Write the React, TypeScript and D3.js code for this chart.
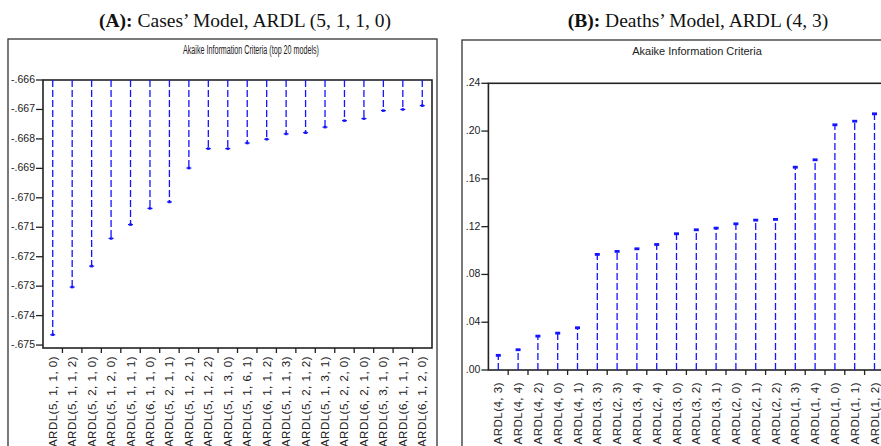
import React from "react";
import * as d3 from "d3";

// (A) cases model: top 20 ARDL specs and their AIC
const casesModels = [
  "ARDL(5, 1, 1, 0)", "ARDL(5, 1, 1, 2)", "ARDL(5, 2, 1, 0)", "ARDL(5, 1, 2, 0)",
  "ARDL(5, 1, 1, 1)", "ARDL(6, 1, 1, 0)", "ARDL(5, 2, 1, 1)", "ARDL(5, 1, 2, 1)",
  "ARDL(5, 1, 2, 2)", "ARDL(5, 1, 3, 0)", "ARDL(5, 1, 6, 1)", "ARDL(6, 1, 1, 2)",
  "ARDL(5, 1, 1, 3)", "ARDL(5, 2, 1, 2)", "ARDL(5, 1, 3, 1)", "ARDL(5, 2, 2, 0)",
  "ARDL(6, 2, 1, 0)", "ARDL(5, 3, 1, 0)", "ARDL(6, 1, 1, 1)", "ARDL(6, 1, 2, 0)",
];
const casesAic = [
  -0.67465, -0.67303, -0.67232, -0.67138, -0.67091, -0.67036, -0.67014, -0.66899,
  -0.66833, -0.66833, -0.66814, -0.66801, -0.66783, -0.66779, -0.6676, -0.66738,
  -0.66731, -0.66704, -0.667, -0.66687,
];
const casesTicks = [-0.666, -0.667, -0.668, -0.669, -0.67, -0.671, -0.672, -0.673, -0.674, -0.675];
const casesTickLabels = ["-.666", "-.667", "-.668", "-.669", "-.670", "-.671", "-.672", "-.673", "-.674", "-.675"];

// (B) deaths model
const deathsModels = [
  "ARDL(4, 3)", "ARDL(4, 4)", "ARDL(4, 2)", "ARDL(4, 0)", "ARDL(4, 1)",
  "ARDL(3, 3)", "ARDL(2, 3)", "ARDL(3, 4)", "ARDL(2, 4)", "ARDL(3, 0)",
  "ARDL(3, 2)", "ARDL(3, 1)", "ARDL(2, 0)", "ARDL(2, 1)", "ARDL(2, 2)",
  "ARDL(1, 3)", "ARDL(1, 4)", "ARDL(1, 0)", "ARDL(1, 1)", "ARDL(1, 2)",
];
const deathsAic = [
  0.0126, 0.0173, 0.0287, 0.0312, 0.0357, 0.0971, 0.0996, 0.1018, 0.1054, 0.1144,
  0.1177, 0.1191, 0.1227, 0.1258, 0.1264, 0.1701, 0.1763, 0.2056, 0.2086, 0.2148,
];
const deathsTicks = [0, 0.04, 0.08, 0.12, 0.16, 0.2, 0.24];
const deathsTickLabels = [".00", ".04", ".08", ".12", ".16", ".20", ".24"];

const sans = "'Liberation Sans', Arial, sans-serif";
const serif = "'Liberation Serif', 'Times New Roman', serif";
const axisColor = "#222";
const blue = "#1414ff";

type PanelProps = {
  models: string[];
  values: number[];
  ticks: number[];
  tickLabels: string[];
  x0: number;
  x1: number;
  yTop: number;
  yBottom: number;
  domain: [number, number];
  base: number;
  frame: { x: number; y: number; w: number };
  title: string;
  titleX: number;
  titleY: number;
  titleSize: number;
  titleLength?: number;
  labelTop: number;
  marker: "plus" | "tee";
};

function Panel(p: PanelProps) {
  const x = d3.scaleBand<string>().domain(p.models).range([p.x0, p.x1]);
  const y = d3.scaleLinear().domain(p.domain).range([p.yBottom, p.yTop]);
  const bw = x.bandwidth();
  return (
    <g>
      <rect x={p.frame.x} y={p.frame.y} width={p.frame.w} height={460} fill="none" stroke="#333" strokeWidth={1.3} />
      <text
        x={p.titleX}
        y={p.titleY}
        textAnchor="middle"
        fontFamily={sans}
        fontSize={p.titleSize}
        fill="#222"
        textLength={p.titleLength}
        lengthAdjust={p.titleLength ? "spacingAndGlyphs" : undefined}
      >
        {p.title}
      </text>
      <rect x={p.x0} y={p.yTop} width={p.x1 - p.x0} height={p.yBottom - p.yTop} fill="none" stroke={axisColor} strokeWidth={1.6} />
      {p.ticks.map((t, i) => (
        <g key={"yt" + i}>
          <line x1={p.x0 - 7} x2={p.x0} y1={y(t)} y2={y(t)} stroke={axisColor} strokeWidth={1.3} />
          <text x={p.x0 - 8} y={y(t) + 3} textAnchor="end" fontFamily={sans} fontSize={10.5} fill="#222">
            {p.tickLabels[i]}
          </text>
        </g>
      ))}
      {p.models.slice(1).map((m) => (
        <line key={"xt" + m} x1={x(m)!} x2={x(m)!} y1={p.yBottom} y2={p.yBottom + 5} stroke={axisColor} strokeWidth={1.3} />
      ))}
      {p.models.map((m, i) => {
        const cx = x(m)! + bw / 2;
        const vy = y(p.values[i]);
        return (
          <g key={"s" + i}>
            <line x1={cx} x2={cx} y1={y(p.base)} y2={vy} stroke={blue} strokeWidth={1.3} strokeDasharray="7,3" />
            {p.marker === "plus" ? (
              <g fill={blue} stroke={blue}>
                <line x1={cx - 2.5} x2={cx + 2.5} y1={vy} y2={vy} strokeWidth={1.2} />
                <rect x={cx - 1.3} y={vy - 1.3} width={2.6} height={2.6} strokeWidth={0} />
              </g>
            ) : (
              <rect x={cx - 2.5} y={vy - 1} width={5} height={2.8} fill={blue} />
            )}
            <text
              transform={`translate(${cx},${p.labelTop}) rotate(-90)`}
              textAnchor="end"
              dominantBaseline="central"
              fontFamily={sans}
              fontSize={11.5}
              letterSpacing={0.5}
              fill="#222"
            >
              {m}
            </text>
          </g>
        );
      })}
    </g>
  );
}

export default function App() {
  return (
    <svg width={881} height={446} style={{ position: "fixed", left: 0, top: 0, background: "#fff" }}>
      <rect width={881} height={446} fill="#fff" />
      <text x={245} y={27} textAnchor="middle" fontFamily={serif} fontSize={19.5} fill="#111">
        <tspan fontWeight="bold">(A):</tspan> Cases’ Model, ARDL (5, 1, 1, 0)
      </text>
      <text x={698} y={27} textAnchor="middle" fontFamily={serif} fontSize={19.5} fill="#111">
        <tspan fontWeight="bold">(B):</tspan> Deaths’ Model, ARDL (4, 3)
      </text>
      <Panel
        models={casesModels}
        values={casesAic}
        ticks={casesTicks}
        tickLabels={casesTickLabels}
        x0={43}
        x1={432}
        yTop={80}
        yBottom={348}
        domain={[-0.6751, -0.666]}
        base={-0.666}
        frame={{ x: 8, y: 39, w: 429 }}
        title="Akaike Information Criteria (top 20 models)"
        titleX={251}
        titleY={54}
        titleSize={12.5}
        titleLength={136}
        labelTop={356}
        marker="plus"
      />
      <Panel
        models={deathsModels}
        values={deathsAic}
        ticks={deathsTicks}
        tickLabels={deathsTickLabels}
        x0={488.4}
        x1={884.4}
        yTop={83.3}
        yBottom={370}
        domain={[0, 0.24]}
        base={0}
        frame={{ x: 462, y: 40, w: 432 }}
        title="Akaike Information Criteria"
        titleX={697}
        titleY={55}
        titleSize={11}
        labelTop={382}
        marker="tee"
      />
    </svg>
  );
}
